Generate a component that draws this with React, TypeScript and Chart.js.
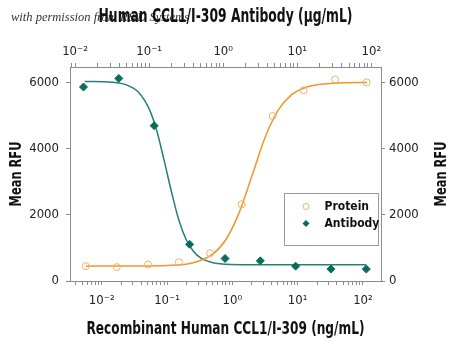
import { useEffect, useRef } from "react";
import { Chart, registerables } from "chart.js";
Chart.register(...registerables);

// Protein (bottom axis, ng/mL)
const proteinX = [0.0057, 0.017, 0.051, 0.152, 0.457, 1.39, 4.15, 12.4, 37.5, 114];
const proteinY = [450, 420, 500, 570, 840, 2320, 4990, 5770, 6100, 6010];
const proteinFitX = [0.0057, 0.0316, 0.1, 0.251, 0.501, 0.794, 1.26, 2.0, 3.16, 5.01, 7.94, 12.6, 25.1, 50.1, 115];
const proteinFitY = [450, 452, 468, 553, 814, 1249, 2046, 3181, 4334, 5162, 5622, 5841, 5964, 5997, 6007];

// Antibody (top axis, µg/mL)
const antibodyX = [0.013, 0.039, 0.117, 0.352, 1.06, 3.17, 9.5, 28.5, 85.5];
const antibodyY = [5870, 6130, 4700, 1110, 680, 610, 450, 360, 360];
const antibodyFitX = [0.0135, 0.0316, 0.0501, 0.0708, 0.1, 0.126, 0.158, 0.2, 0.251, 0.316, 0.398, 0.501, 0.708, 1.26, 3.16, 10, 85.5];
const antibodyFitY = [6038, 6012, 5927, 5723, 5207, 4569, 3687, 2707, 1854, 1254, 892, 695, 562, 502, 492, 490, 490];

// Axis ticks
const decadeValues = [0.001, 0.01, 0.1, 1, 10, 100];
const decadeLabels = ["10⁻³", "10⁻²", "10⁻¹", "10⁰", "10¹", "10²"];
const yTicks = [0, 2000, 4000, 6000];

// Texts
const topTitle = "Human CCL1/I-309 Antibody (µg/mL)";
const bottomTitle = "Recombinant Human CCL1/I-309 (ng/mL)";
const yTitle = "Mean RFU";
const watermark = "with permission from R&D Systems";

const FONT = "'Liberation Sans Narrow', 'DejaVu Sans Condensed', 'Noto Sans', sans-serif";
const AXIS = "#8c8c8c";
const ORANGE_LINE = "#f0962c";
const ORANGE_PT = "#f2b262";
const TEAL_LINE = "#23807a";
const TEAL_PT = "#0c6b5c";

const logTicks = (scale: any) => {
  const ticks: { value: number }[] = [];
  for (const d of decadeValues) {
    for (let m = 1; m <= 9; m++) {
      const v = +(m * d).toPrecision(6);
      if (v >= scale.min && v <= scale.max) ticks.push({ value: v });
    }
  }
  scale.ticks = ticks;
};
const logLabel = (value: number) => {
  const i = decadeValues.findIndex((d) => Math.abs(value / d - 1) < 1e-6);
  return i >= 0 ? decadeLabels[i] : "";
};

// draws condensed bold text centred at (x, y), squeezed to width w
const condensedText = (ctx: any, text: string, x: number, y: number, size: number, w: number, rot: number) => {
  ctx.save();
  ctx.font = `bold ${size}px ${FONT}`;
  const m = ctx.measureText(text).width;
  const sx = Math.min(1, w / m);
  ctx.translate(x, y);
  ctx.rotate(rot);
  ctx.scale(sx, 1);
  ctx.fillStyle = "#111";
  ctx.textAlign = "center";
  ctx.textBaseline = "middle";
  ctx.fillText(text, 0, 0);
  ctx.restore();
};

const decor = {
  id: "decor",
  beforeDraw(chart: any) {
    const ctx = chart.ctx;
    ctx.save();
    ctx.font = "italic 12.5px 'Liberation Serif', serif";
    ctx.fillStyle = "#333";
    ctx.textBaseline = "alphabetic";
    ctx.fillText(watermark, 11, 21);
    ctx.restore();
  },
  afterDraw(chart: any) {
    const ctx = chart.ctx;
    const area = chart.chartArea;
    const cx = (area.left + area.right) / 2;
    const cy = (area.top + area.bottom) / 2;
    condensedText(ctx, topTitle, cx, 17, 19, 254, 0);
    condensedText(ctx, bottomTitle, cx, 329, 17.5, 278, 0);
    condensedText(ctx, yTitle, 17, cy, 15.5, 65, -Math.PI / 2);
    condensedText(ctx, yTitle, chart.scales.y2.right - 8, cy, 15.5, 65, -Math.PI / 2);

    // legend box
    const lx = area.right - 96.5;
    const ly = area.top + 126.5;
    ctx.save();
    ctx.fillStyle = "#fff";
    ctx.strokeStyle = "#9a9a9a";
    ctx.lineWidth = 1;
    ctx.fillRect(lx, ly, 94, 52);
    ctx.strokeRect(lx, ly, 94, 52);
    const ds = chart.data.datasets;
    ctx.font = `bold 12px ${FONT}`;
    ctx.fillStyle = "#111";
    ctx.textBaseline = "middle";
    ctx.fillText(ds[0].label, lx + 40, ly + 13);
    ctx.fillText(ds[1].label, lx + 40, ly + 30);
    ctx.beginPath();
    ctx.arc(lx + 21.5, ly + 13, 3, 0, Math.PI * 2);
    ctx.strokeStyle = ds[0].borderColor;
    ctx.stroke();
    ctx.beginPath();
    const mx = lx + 21.5, my = ly + 30, r = 3.5;
    ctx.moveTo(mx, my - r);
    ctx.lineTo(mx + r, my);
    ctx.lineTo(mx, my + r);
    ctx.lineTo(mx - r, my);
    ctx.closePath();
    ctx.fillStyle = ds[1].backgroundColor;
    ctx.fill();
    ctx.restore();
  },
};

export default function App() {
  const ref = useRef<HTMLCanvasElement>(null);
  useEffect(() => {
    const tickFont = { family: FONT, size: 13 };
    const grid = { display: true, drawOnChartArea: false, drawTicks: true, tickLength: 4, color: AXIS, tickColor: AXIS };
    const border = { display: true, color: AXIS, width: 1 };
    const yTickOpts = (padding: number) => ({ font: tickFont, color: "#222", padding, callback: (v: any) => String(v) });
    const chart = new Chart(ref.current!, {
      type: "scatter",
      data: {
        datasets: [
          {
            label: "Protein",
            data: proteinX.map((x, i) => ({ x, y: proteinY[i] })),
            xAxisID: "x",
            yAxisID: "y",
            pointStyle: "circle",
            pointRadius: 3.5,
            borderWidth: 1,
            borderColor: ORANGE_PT,
            backgroundColor: "rgba(255,255,255,0)",
            showLine: false,
          },
          {
            label: "Antibody",
            data: antibodyX.map((x, i) => ({ x, y: antibodyY[i] })),
            xAxisID: "x2",
            yAxisID: "y",
            pointStyle: "rectRot",
            pointRadius: 4,
            borderWidth: 1,
            borderColor: TEAL_PT,
            backgroundColor: TEAL_PT,
            showLine: false,
          },
          {
            label: "Protein fit",
            data: proteinFitX.map((x, i) => ({ x, y: proteinFitY[i] })),
            xAxisID: "x",
            yAxisID: "y",
            showLine: true,
            pointRadius: 0,
            borderWidth: 1.5,
            borderColor: ORANGE_LINE,
            cubicInterpolationMode: "monotone",
          },
          {
            label: "Antibody fit",
            data: antibodyFitX.map((x, i) => ({ x, y: antibodyFitY[i] })),
            xAxisID: "x2",
            yAxisID: "y",
            showLine: true,
            pointRadius: 0,
            borderWidth: 1.5,
            borderColor: TEAL_LINE,
            cubicInterpolationMode: "monotone",
          },
        ],
      },
      options: {
        responsive: false,
        animation: false,
        devicePixelRatio: 1,
        layout: { padding: 0 },
        plugins: { legend: { display: false }, tooltip: { enabled: false } },
        scales: {
          x: {
            type: "logarithmic",
            position: "bottom",
            min: 0.00327,
            max: 189,
            afterBuildTicks: logTicks,
            afterFit: (s: any) => { s.height = 64; },
            ticks: { autoSkip: false, maxRotation: 0, minRotation: 0, callback: (v: any) => logLabel(+v), font: tickFont, color: "#222", padding: 8 },
            grid,
            border,
          },
          x2: {
            type: "logarithmic",
            position: "top",
            min: 0.00855,
            max: 135,
            afterBuildTicks: logTicks,
            afterFit: (s: any) => { s.height = 67; },
            ticks: { autoSkip: false, maxRotation: 0, minRotation: 0, callback: (v: any) => logLabel(+v), font: tickFont, color: "#222", padding: 4 },
            grid,
            border,
          },
          y: {
            type: "linear",
            position: "left",
            min: 0,
            max: 6475,
            afterBuildTicks: (s: any) => { s.ticks = yTicks.map((value) => ({ value })); },
            afterFit: (s: any) => { s.width = 70; },
            ticks: yTickOpts(7),
            grid,
            border,
          },
          y2: {
            type: "linear",
            position: "right",
            min: 0,
            max: 6475,
            afterBuildTicks: (s: any) => { s.ticks = yTicks.map((value) => ({ value })); },
            afterFit: (s: any) => { s.width = 69; },
            ticks: yTickOpts(4),
            grid,
            border,
          },
        },
      },
      plugins: [decor],
    } as any);
    return () => chart.destroy();
  }, []);
  return (
    <div style={{ position: "fixed", left: 0, top: 0, width: 450, height: 345, background: "#fff" }}>
      <canvas ref={ref} width={450} height={345} style={{ width: 450, height: 345, display: "block" }} />
    </div>
  );
}
